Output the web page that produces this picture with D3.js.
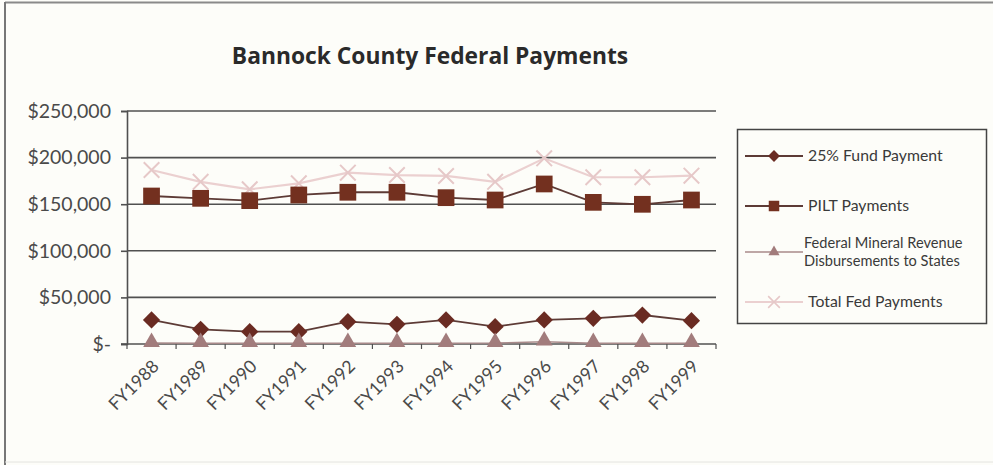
<!DOCTYPE html>
<html>
<head>
<meta charset="utf-8">
<script src="https://cdn.jsdelivr.net/npm/d3@7"></script>
<style>
  html, body { margin: 0; padding: 0; background: #fdfdf9; }
  svg { display: block; }
</style>
</head>
<body>
<svg id="chart" width="993" height="465"></svg>
<script>
// Fiscal years on the category axis
const years = ["FY1988","FY1989","FY1990","FY1991","FY1992","FY1993",
               "FY1994","FY1995","FY1996","FY1997","FY1998","FY1999"];

// Payment series (dollars)
const fundPayment  = [25800, 15700, 13200, 13200, 23900, 21100, 25800, 18600, 25800, 27600, 31100, 25000];
const piltPayments = [158800, 156300, 153800, 159900, 162800, 162800, 157000, 154500, 171700, 152000, 149900, 154500];
const mineralRev   = [1000, 800, 800, 800, 800, 800, 800, 1000, 2500, 800, 800, 800];
const totalFed     = [186700, 174000, 166000, 172400, 183800, 181300, 180300, 174000, 199200, 178900, 178900, 180600];

const yTicks = [0, 50000, 100000, 150000, 200000, 250000];
const yTickLabels = ["$-", "$50,000", "$100,000", "$150,000", "$200,000", "$250,000"];

const seriesNames = ["25% Fund Payment", "PILT Payments",
                     "Federal Mineral Revenue\nDisbursements to States", "Total Fed Payments"];

const svg = d3.select("#chart");
const font = "Lato, 'Open Sans', sans-serif";

// outer frame
svg.append("line").attr("x1", 5).attr("x2", 993).attr("y1", 2.5).attr("y2", 2.5)
   .attr("stroke", "#8a8a8a").attr("stroke-width", 2);
svg.append("line").attr("x1", 5).attr("x2", 5).attr("y1", 2).attr("y2", 465)
   .attr("stroke", "#777").attr("stroke-width", 2);
svg.append("line").attr("x1", 5).attr("x2", 993).attr("y1", 462).attr("y2", 462)
   .attr("stroke", "#e4e4e0").attr("stroke-width", 1);

// title
svg.append("text")
   .attr("x", 430).attr("y", 64)
   .attr("text-anchor", "middle")
   .attr("font-family", "'Open Sans', sans-serif")
   .attr("font-weight", "bold")
   .attr("font-size", 22.8)
   .attr("fill", "#2a2a2a")
   .text("Bannock County Federal Payments");

const plotLeft = 127, plotRight = 716, plotTop = 111, plotBottom = 344;

const x = d3.scalePoint().domain(years).range([plotLeft, plotRight]).padding(0.5);
const xBand = d3.scaleBand().domain(years).range([plotLeft, plotRight]);
const y = d3.scaleLinear().domain([0, 250000]).range([plotBottom, plotTop]);

// horizontal gridlines
svg.append("g")
   .selectAll("line")
   .data(yTicks.filter(d => d > 0))
   .join("line")
   .attr("x1", plotLeft).attr("x2", plotRight)
   .attr("y1", d => y(d)).attr("y2", d => y(d))
   .attr("stroke", "#505050").attr("stroke-width", 1.6);

// y axis
const yAxis = d3.axisLeft(y)
   .tickValues(yTicks)
   .tickSize(6)
   .tickPadding(10)
   .tickFormat((d, i) => yTickLabels[i]);
const gy = svg.append("g").attr("transform", `translate(${plotLeft},0)`).call(yAxis);
gy.select(".domain").attr("stroke", "#505050").attr("stroke-width", 1.6);
gy.selectAll(".tick line").attr("stroke", "#505050").attr("stroke-width", 1.6);
gy.selectAll("text").attr("font-family", font).attr("font-size", 19.5).attr("fill", "#4a4a4a");

// x axis: ticks on category boundaries
const boundaries = years.map(d => xBand(d)).concat([plotRight]);
const gx = svg.append("g").attr("transform", `translate(0,${plotBottom})`);
gx.append("line").attr("x1", plotLeft - 6).attr("x2", plotRight)
  .attr("stroke", "#505050").attr("stroke-width", 1.6);
gx.selectAll(".bt").data(boundaries).join("line").attr("class", "bt")
  .attr("x1", d => d).attr("x2", d => d).attr("y1", 0).attr("y2", 5)
  .attr("stroke", "#505050").attr("stroke-width", 1.2);
gx.selectAll(".xl").data(years).join("text").attr("class", "xl")
  .attr("transform", d => `translate(${x(d) + 4},${19}) rotate(-45)`)
  .attr("text-anchor", "end")
  .attr("dy", "0.35em")
  .attr("font-family", font).attr("font-size", 17.7).attr("fill", "#4a4a4a")
  .text(d => d);

// marker shapes
const sym = {
  diamond: d3.symbol().type(d3.symbolDiamond2).size(190),
  square: d3.symbol().type(d3.symbolSquare).size(280),
  triangle: d3.symbol().type(d3.symbolTriangle2).size(200),
  cross: d3.symbol().type(d3.symbolX).size(160)
};

const series = [
  { name: seriesNames[0], values: fundPayment,  line: "#5d3b36", lw: 1.8, marker: "diamond", fill: "#6a2b22", stroke: "none" },
  { name: seriesNames[1], values: piltPayments, line: "#5d3b36", lw: 1.8, marker: "square",  fill: "#73301f", stroke: "none" },
  { name: seriesNames[2], values: mineralRev,   line: "#a88a8a", lw: 1.5, marker: "triangle", fill: "#a27c7c", stroke: "none" },
  { name: seriesNames[3], values: totalFed,     line: "#ebd0d0", lw: 2.2, marker: "cross",   fill: "none", stroke: "#e6c8c8" }
];

const lineGen = d3.line().x((d, i) => x(years[i])).y(d => y(d));

// draw in back-to-front order: total, pilt, fund, mineral
[3, 1, 0, 2].forEach(k => {
  const s = series[k];
  const g = svg.append("g");
  g.append("path").datum(s.values)
   .attr("d", lineGen).attr("fill", "none")
   .attr("stroke", s.line).attr("stroke-width", s.lw);
  g.selectAll("path.m").data(s.values).join("path").attr("class", "m")
   .attr("transform", (d, i) => `translate(${x(years[i])},${y(d) + (s.marker === "triangle" ? -1 : 0)})`)
   .attr("d", sym[s.marker])
   .attr("fill", s.fill)
   .attr("stroke", s.stroke)
   .attr("stroke-width", s.marker === "cross" ? 2 : 0);
});

// legend
const lg = svg.append("g");
lg.append("rect").attr("x", 737.5).attr("y", 129.5).attr("width", 249).attr("height", 194)
  .attr("fill", "none").attr("stroke", "#444").attr("stroke-width", 1.5);
const legendY = [156, 206, 252, 302];
series.forEach((s, i) => {
  const yy = legendY[i];
  lg.append("line").attr("x1", 745).attr("x2", 803).attr("y1", yy).attr("y2", yy)
    .attr("stroke", s.line).attr("stroke-width", s.lw);
  lg.append("path").attr("transform", `translate(774,${yy})`)
    .attr("d", d3.symbol().type(
       s.marker === "diamond" ? d3.symbolDiamond2 :
       s.marker === "square" ? d3.symbolSquare :
       s.marker === "triangle" ? d3.symbolTriangle2 : d3.symbolX).size(s.marker === "square" ? 110 : 90))
    .attr("fill", s.fill).attr("stroke", s.stroke).attr("stroke-width", s.marker === "cross" ? 1.6 : 0);
  const lines = s.name.split("\n");
  const fs = lines.length > 1 ? 14.6 : 15.8;
  const t = lg.append("text")
    .attr("font-family", font).attr("font-size", fs).attr("fill", "#3a3a3a");
  lines.forEach((ln, j) => {
    t.append("tspan")
     .attr("x", lines.length > 1 ? 804 : 808)
     .attr("y", yy + 5 + (j - (lines.length - 1) / 2) * 18)
     .text(ln);
  });
});
</script>
</body>
</html>
